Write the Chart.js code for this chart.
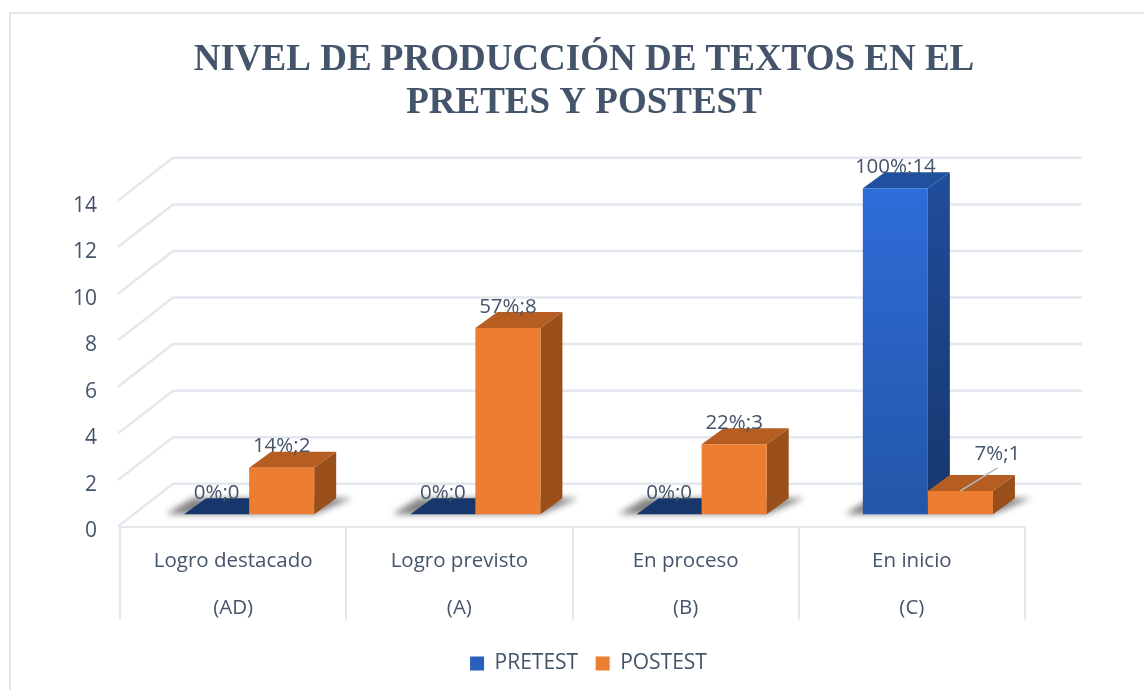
<!DOCTYPE html>
<html lang="es">
<head>
  <meta charset="UTF-8" />
  <title>Nivel de producción de textos</title>
  <script src="https://cdn.jsdelivr.net/npm/chart.js"></script>
  <style>
    html, body { margin: 0; padding: 0; background: #fff; }
    #wrap { width: 1144px; height: 690px; }
  </style>
</head>
<body>
  <div id="wrap"><canvas id="chart" width="1144" height="690"></canvas></div>

  <script>
    const titleLines = ["NIVEL DE PRODUCCIÓN DE TEXTOS EN EL", "PRETES Y POSTEST"];
    const categories = [
      ["Logro destacado", "(AD)"],
      ["Logro previsto", "(A)"],
      ["En proceso", "(B)"],
      ["En inicio", "(C)"]
    ];
    const pretest = [0, 0, 0, 14];
    const postest = [2, 8, 3, 1];
    const pretestPct = ["0%", "0%", "0%", "100%"];
    const postestPct = ["14%", "57%", "22%", "7%"];

    const textColor = "#44546a";
    const gridColor = "#e4e7ed";
    const uiFont = "'Open Sans', sans-serif";

    // how far the bars sit inside the 3D floor, and the depth of walls and bars
    const floorShift = { x: 16, y: 12.3 };
    const wallDepth = { x: 55, y: 42.7 };
    const barDepth = { x: 22, y: 16 };

    function blueFront(chart) {
      const y = chart.scales.y;
      if (!y || !chart.chartArea) return "#2a60bd";
      const g = chart.ctx.createLinearGradient(0, y.getPixelForValue(14) - floorShift.y, 0, y.getPixelForValue(0) - floorShift.y);
      g.addColorStop(0, "#2e6cd8");
      g.addColorStop(1, "#2356a8");
      return g;
    }

    function blueSide(chart) {
      const y = chart.scales.y;
      const g = chart.ctx.createLinearGradient(0, y.getPixelForValue(14) - floorShift.y, 0, y.getPixelForValue(0) - floorShift.y);
      g.addColorStop(0, "#1f4c9a");
      g.addColorStop(1, "#17376c");
      return g;
    }

    function poly(ctx, pts, fill) {
      ctx.beginPath();
      pts.forEach((p, i) => (i ? ctx.lineTo(p[0], p[1]) : ctx.moveTo(p[0], p[1])));
      ctx.closePath();
      ctx.fillStyle = fill;
      ctx.fill();
    }

    const frame3d = {
      id: "frame3d",
      afterLayout(chart) {
        // title and legend are not centred on the canvas in the original
        chart.titleBlock.left = 24;
        chart.titleBlock.right = 1144;
        chart.legend.left = 33;
        chart.legend.right = 1144;
      },
      afterDatasetsUpdate(chart) {
        chart.data.datasets.forEach((ds, i) => {
          chart.getDatasetMeta(i).data.forEach(bar => {
            bar.x += floorShift.x;
            bar.y -= floorShift.y;
            bar.base -= floorShift.y;
          });
        });
      },
      beforeDraw(chart) {
        const ctx = chart.ctx;
        ctx.save();
        ctx.strokeStyle = gridColor;
        ctx.lineWidth = 2;
        ctx.beginPath();
        ctx.moveTo(10, 690);
        ctx.lineTo(10, 13);
        ctx.lineTo(1144, 13);
        ctx.stroke();
        ctx.restore();
      },
      beforeDatasetsDraw(chart) {
        const ctx = chart.ctx;
        const yScale = chart.scales.y;
        const area = chart.chartArea;
        ctx.save();

        // side wall and back wall lines
        ctx.strokeStyle = gridColor;
        ctx.lineWidth = 2.5;
        yScale.ticks.forEach(t => {
          const py = yScale.getPixelForValue(t.value);
          ctx.beginPath();
          ctx.moveTo(area.left - 2, py);
          ctx.lineTo(area.left - 2 + wallDepth.x, py - wallDepth.y);
          ctx.lineTo(area.right + wallDepth.x + 2, py - wallDepth.y);
          ctx.stroke();
        });

        // y tick labels sit a little under their tick in the original
        ctx.font = "21px " + uiFont;
        ctx.fillStyle = textColor;
        ctx.textAlign = "right";
        ctx.textBaseline = "middle";
        yScale.ticks.forEach(t => {
          ctx.fillText(String(t.value), area.left - 23, yScale.getPixelForValue(t.value) + 5);
        });

        // floor shadows
        const blue = chart.getDatasetMeta(0).data;
        const orange = chart.getDatasetMeta(1).data;
        ctx.save();
        ctx.filter = "blur(3px)";
        blue.forEach((b, i) => {
          const left = b.x - b.width / 2;
          const right = orange[i].x + orange[i].width / 2;
          poly(ctx, [
            [left - 18, b.base],
            [left + 8, b.base - barDepth.y],
            [right + barDepth.x + 16, b.base - barDepth.y],
            [right, b.base]
          ], "rgba(90,90,90,0.75)");
        });
        ctx.restore();

        // side and top faces, blue series first so orange can overlap it
        const sets = [
          { bars: blue, side: blueSide(chart), top: "#21509f", flat: "#17376c" },
          { bars: orange, side: "#9a4f1b", top: "#b65e21", flat: "#b65e21" }
        ];
        sets.forEach(s => {
          s.bars.forEach(b => {
            const l = b.x - b.width / 2;
            const r = b.x + b.width / 2;
            if (b.base - b.y > 0) {
              poly(ctx, [[r, b.y], [r + barDepth.x, b.y - barDepth.y], [r + barDepth.x, b.base - barDepth.y], [r, b.base]], s.side);
            }
            poly(ctx, [[l, b.y], [l + barDepth.x, b.y - barDepth.y], [r + barDepth.x, b.y - barDepth.y], [r, b.y]],
              b.base - b.y > 0 ? s.top : s.flat);
          });
        });
        ctx.restore();
      },
      afterDatasetsDraw(chart) {
        const ctx = chart.ctx;
        ctx.save();
        ctx.font = "20.5px " + uiFont;
        ctx.fillStyle = textColor;
        ctx.textAlign = "center";
        ctx.textBaseline = "middle";
        chart.getDatasetMeta(0).data.forEach((b, i) => {
          ctx.fillText(pretestPct[i] + ";" + pretest[i], b.x, b.y - 21);
        });
        chart.getDatasetMeta(1).data.forEach((b, i) => {
          let lx = b.x;
          let ly = b.y - 21;
          if (postest[i] === 1) {
            // this one was dragged off the bar and has a leader line
            lx = b.x + 37;
            ly = b.y - 37;
            ctx.strokeStyle = "#aebccb";
            ctx.lineWidth = 1.5;
            ctx.beginPath();
            ctx.moveTo(b.x, b.y);
            ctx.lineTo(lx, ly + 14);
            ctx.stroke();
          }
          ctx.fillText(postestPct[i] + ";" + postest[i], lx, ly);
        });
        ctx.restore();
      }
    };

    new Chart(document.getElementById("chart"), {
      type: "bar",
      data: {
        labels: categories,
        datasets: [
          { label: "PRETEST", data: pretest, clip: false, backgroundColor: c => blueFront(c.chart) },
          { label: "POSTEST", data: postest, clip: false, backgroundColor: "#ed7d31" }
        ]
      },
      options: {
        responsive: false,
        animation: false,
        layout: { padding: { right: 119, bottom: 6 } },
        datasets: { bar: { barPercentage: 1, categoryPercentage: 0.575 } },
        plugins: {
          title: {
            display: true,
            text: titleLines,
            color: textColor,
            font: { family: "'Liberation Serif', serif", size: 37, weight: "bold", lineHeight: 1.16 },
            padding: { top: 39, bottom: 75.7 }
          },
          legend: {
            position: "bottom",
            labels: {
              color: textColor,
              font: { family: uiFont, size: 21 },
              boxWidth: 14,
              boxHeight: 14,
              padding: 17.5,
              generateLabels(chart) {
                const items = Chart.defaults.plugins.legend.labels.generateLabels(chart);
                items[0].fillStyle = "#2a60bd";
                return items;
              }
            }
          },
          tooltip: { enabled: false }
        },
        scales: {
          x: {
            afterFit(scale) { scale.height = 109; },
            border: { display: true, color: gridColor, width: 2 },
            grid: { drawOnChartArea: false, drawTicks: true, tickLength: 93, color: gridColor, tickColor: gridColor, lineWidth: 2 },
            ticks: {
              color: textColor,
              autoSkip: false,
              maxRotation: 0,
              padding: -82,
              font: { family: uiFont, size: 20.5, lineHeight: 2.29 }
            }
          },
          y: {
            min: 0,
            max: 14,
            afterFit(scale) { scale.width = 120; },
            border: { display: false },
            grid: { display: false },
            ticks: {
              display: false,
              stepSize: 2
            }
          }
        }
      },
      plugins: [frame3d]
    });
  </script>
</body>
</html>
